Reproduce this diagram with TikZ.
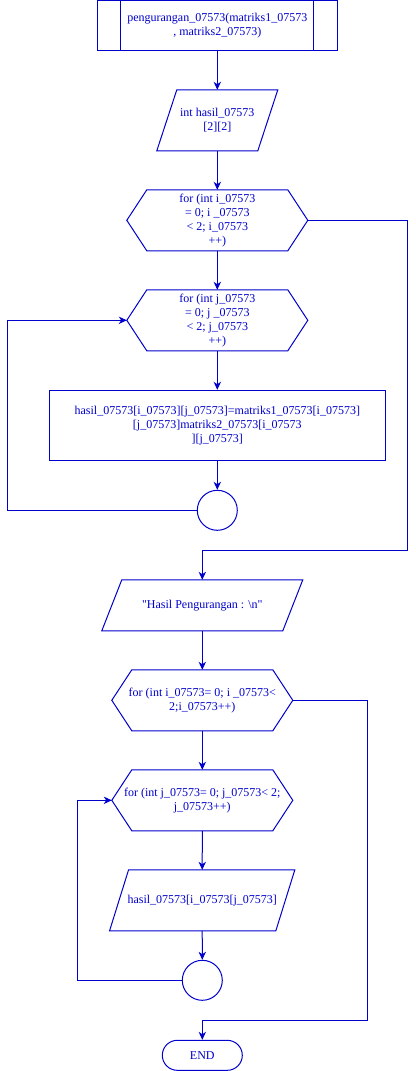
\documentclass[tikz,border=0pt]{standalone}
\usepackage{fontspec}
\newfontfamily\flowfont{Liberation Serif}
\usetikzlibrary{arrows.meta}
\definecolor{fcblue}{RGB}{0,0,204}
\begin{document}
\begin{tikzpicture}[x=0.75pt, y=-0.75pt, color=fcblue, line width=0.75pt,
          font=\flowfont\fontsize{9}{10.5}\selectfont,
          >={Stealth[length=6pt, width=5.5pt, inset=1.8pt]},
          proc/.style={draw, rectangle, minimum width=180pt, minimum height=37.5pt, inner sep=1pt, align=center},
          io/.style={rectangle, inner sep=1pt, align=center},
          loophex/.style={rectangle, minimum width=135pt, minimum height=45pt, inner sep=0pt, align=center},
          joint/.style={draw, circle, minimum size=30pt, inner sep=0pt},
          term/.style={draw, rectangle, rounded corners=11.25pt, minimum width=60pt, minimum height=22.5pt, inner sep=1pt}]
        \useasboundingbox (0,0) rectangle (416,1071);
        % subroutine header
        \node[proc] (sub) at (217.3,25.3) {pengurangan\_07573(matriks1\_07573\\, matriks2\_07573)};
        \draw ([xshift=18pt]sub.north west) -- ([xshift=18pt]sub.south west);
        \draw ([xshift=-18pt]sub.north east) -- ([xshift=-18pt]sub.south east);
        \node[io, minimum width=90pt, minimum height=45pt] (decl) at (217.3,120.3) {int hasil\_07573\\{[2][2]}};
        % first pair of loops: subtraction
        \node[loophex] (fori) at (217.3,220.3) {for (int i\_07573\\= 0; i \_07573\\< 2; i\_07573\\++)};
        \node[loophex] (forj) at (217.3,320.3) {for (int j\_07573\\= 0; j \_07573\\< 2; j\_07573\\++)};
        \node[proc, minimum width=252pt, minimum height=52.5pt] (calc) at (217.3,425.3)
          {hasil\_07573[i\_07573][j\_07573]=matriks1\_07573[i\_07573]\\{[j\_07573]matriks2\_07573[i\_07573}\\{][j\_07573]}};
        \node[joint] (endj) at (217.3,510.3) {};
        \coordinate (backj) at (7.3,510.3);
        \coordinate (exiti) at (407.3,550);
        % output
        \node[io, minimum width=150pt, minimum height=37.5pt] (head) at (202.3,605.3) {"Hasil Pengurangan : \textbackslash n"};
        % second pair of loops: printing
        \node[loophex] (printi) at (202.3,700.3) {for (int i\_07573= 0; i \_07573<\\2;i\_07573++)};
        \node[loophex] (printj) at (202.3,800.3) {for (int j\_07573= 0; j\_07573< 2;\\j\_07573++)};
        \node[io, minimum width=138.2pt, minimum height=45pt] (show) at (202.2,900.3) {hasil\_07573[i\_07573[j\_07573]};
        \node[joint] (endpj) at (202.3,980.3) {};
        \coordinate (backpj) at (77.3,980.3);
        \coordinate (exitpi) at (367.3,1020.3);
        \node[term] (stop) at (202.3,1055.3) {END};
        % hexagon outlines, points on west and east
        \foreach \h in {fori,forj,printi,printj}
          \draw (\h.west) -- ([xshift=15pt]\h.north west) -- ([xshift=-15pt]\h.north east) -- (\h.east)
            -- ([xshift=-15pt]\h.south east) -- ([xshift=15pt]\h.south west) -- cycle;
        % parallelogram outlines, leaning right
        \foreach \h/\s in {decl/15pt, head/15pt, show/14.25pt}
          \draw ([xshift=\s]\h.north west) -- (\h.north east) -- ([xshift=-\s]\h.south east) -- (\h.south west) -- cycle;
        % connectors
        \draw[->] (sub) -- (decl);
        \draw[->] (decl) -- (fori);
        \draw[->] (fori) -- (forj);
        \draw[->] (forj) -- (calc);
        \draw[->] (calc) -- (endj);
        \draw[->] (endj.west) -- (backj) |- (forj.west);
        \draw[->] (fori.east) -| (exiti) -| (head.north);
        \draw[->] (head) -- (printi);
        \draw[->] (printi) -- (printj);
        \draw[->] (printj) -- (show);
        \draw[->] (show) -- (endpj);
        \draw[->] (endpj.west) -- (backpj) |- (printj.west);
        \draw[->] (printi.east) -| (exitpi) -| (stop.north);
      \end{tikzpicture}
\end{document}
